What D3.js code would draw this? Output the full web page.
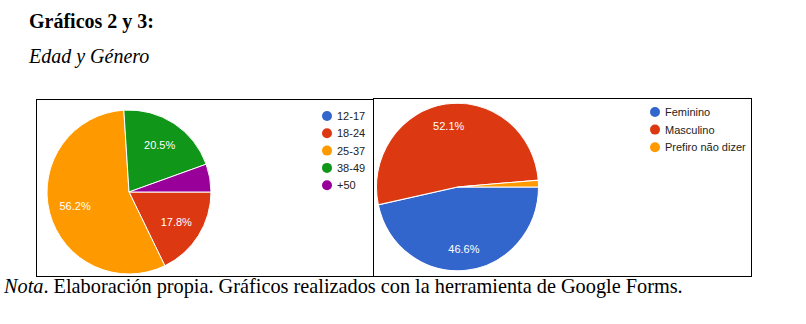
<!DOCTYPE html>
<html>
<head>
<meta charset="utf-8">
<script src="https://cdn.jsdelivr.net/npm/d3@7"></script>
<style>
  body { margin: 0; background: #fff; }
  svg { display: block; }
</style>
</head>
<body>
<script>
// chart 2: age groups (percent)
const ageLabels = ["12-17", "18-24", "25-37", "38-49", "+50"];
const ageValues = [0, 17.8, 56.2, 20.5, 5.5];
// chart 3: gender (percent)
const genderLabels = ["Feminino", "Masculino", "Prefiro não dizer"];
const genderValues = [46.6, 52.1, 1.3];

const googleColors = ["#3366cc", "#dc3912", "#ff9900", "#109618", "#990099"];

const width = 806, height = 324;

const svg = d3.select("body").append("svg")
    .attr("width", width)
    .attr("height", height);

svg.append("rect")
    .attr("width", width)
    .attr("height", height)
    .attr("fill", "#fff");

// heading text (document style)
svg.append("text")
    .attr("x", 29)
    .attr("y", 28)
    .attr("font-family", "'Liberation Serif', 'Times New Roman', serif")
    .attr("font-weight", "bold")
    .attr("font-size", "20px")
    .text("Gráficos 2 y 3:");

svg.append("text")
    .attr("x", 29)
    .attr("y", 63)
    .attr("font-family", "'Liberation Serif', 'Times New Roman', serif")
    .attr("font-style", "italic")
    .attr("font-size", "20px")
    .text("Edad y Género");

const note = svg.append("text")
    .attr("x", 4)
    .attr("y", 293)
    .attr("font-family", "'Liberation Serif', 'Times New Roman', serif")
    .attr("font-size", "20.3px");
note.append("tspan").attr("font-style", "italic").text("Nota");
note.append("tspan").text(". Elaboración propia. Gráficos realizados con la herramienta de Google Forms.");

// draws one google-forms style pie with its frame and legend
function drawPie(opts) {
    const g = svg.append("g");

    g.append("rect")
        .attr("x", opts.box[0] + 0.5)
        .attr("y", opts.box[1] + 0.5)
        .attr("width", opts.box[2])
        .attr("height", opts.box[3])
        .attr("fill", "#fff")
        .attr("stroke", "#000")
        .attr("stroke-width", 1);

    const data = opts.labels.map((l, i) => ({ label: l, value: opts.values[i] }));

    const color = d3.scaleOrdinal()
        .domain(opts.labels)
        .range(googleColors);

    const pie = d3.pie()
        .sort(null)
        .value(d => d.value)
        .startAngle(Math.PI / 2)
        .endAngle(Math.PI / 2 + 2 * Math.PI);

    const arcs = pie(data);

    const arc = d3.arc().innerRadius(0).outerRadius(opts.r);
    const labelArc = d3.arc().innerRadius(opts.r * opts.labelK).outerRadius(opts.r * opts.labelK);

    const pg = g.append("g")
        .attr("transform", `translate(${opts.cx},${opts.cy}) scale(1,${opts.sy})`);

    pg.selectAll("path")
        .data(arcs.filter(d => d.value > 0))
        .enter()
        .append("path")
        .attr("d", arc)
        .attr("fill", d => color(d.data.label))
        .attr("stroke", "#fff")
        .attr("stroke-width", 1);

    g.append("g")
        .attr("transform", `translate(${opts.cx},${opts.cy})`)
        .selectAll("text")
        .data(arcs.filter(d => d.value >= 10))
        .enter()
        .append("text")
        .attr("transform", d => {
            const c = labelArc.centroid(d);
            return `translate(${c[0]},${c[1] * opts.sy})`;
        })
        .attr("text-anchor", "middle")
        .attr("dy", "0.36em")
        .attr("font-family", "'Liberation Sans', Arial, sans-serif")
        .attr("font-size", "11px")
        .attr("fill", "#fff")
        .text(d => d.value.toFixed(1) + "%");

    const legend = g.append("g")
        .attr("transform", `translate(${opts.legend[0]},${opts.legend[1]})`);

    opts.labels.forEach((l, i) => {
        legend.append("circle")
            .attr("cx", 0)
            .attr("cy", i * opts.legendStep)
            .attr("r", 5)
            .attr("fill", color(l));

        legend.append("text")
            .attr("x", 10)
            .attr("y", i * opts.legendStep)
            .attr("dy", "0.36em")
            .attr("font-family", "'Liberation Sans', Arial, sans-serif")
            .attr("font-size", "11px")
            .attr("fill", "#222")
            .text(l);
    });
}

drawPie({
    labels: ageLabels,
    values: ageValues,
    box: [36, 99, 337, 177],
    cx: 129, cy: 192, r: 82, sy: 1, labelK: 0.68,
    legend: [327, 116],
    legendStep: 17.3
});

drawPie({
    labels: genderLabels,
    values: genderValues,
    box: [373, 98, 378, 178],
    cx: 457.5, cy: 187, r: 81, sy: 1.035, labelK: 0.74,
    legend: [655, 112],
    legendStep: 17.6
});
</script>
</body>
</html>
